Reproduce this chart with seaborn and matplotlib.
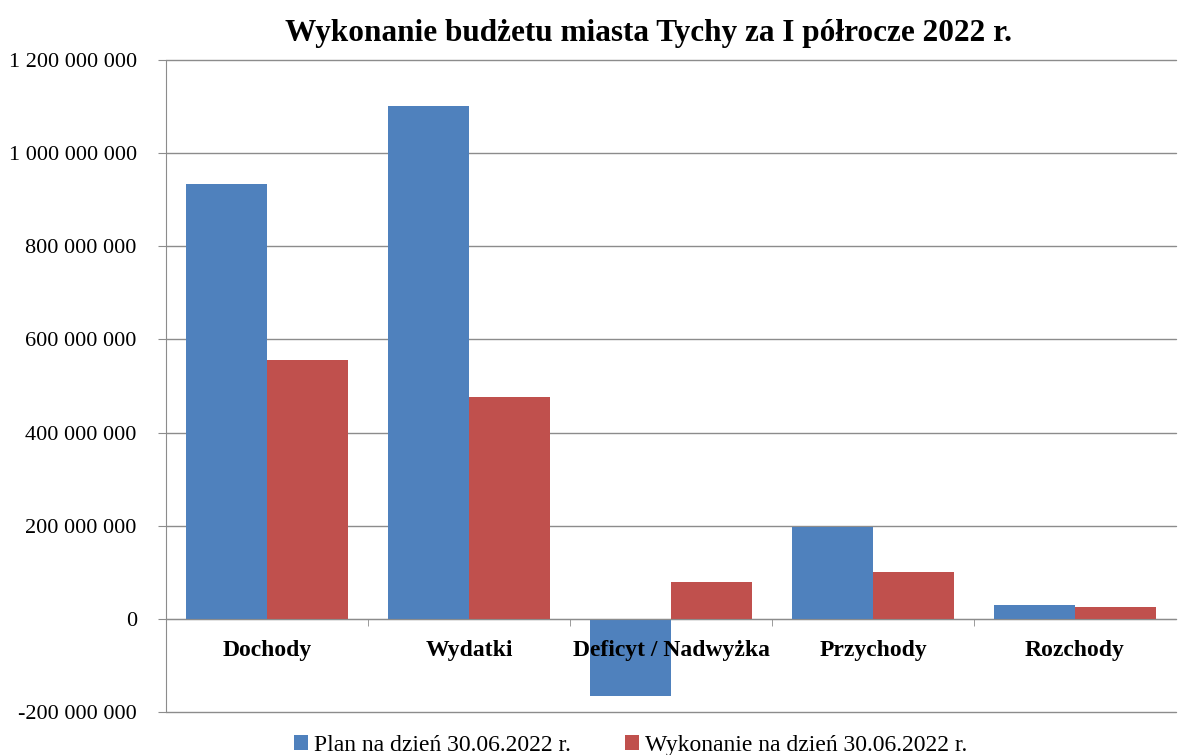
import numpy as np
import pandas as pd
import matplotlib
matplotlib.use("Agg")
import matplotlib.pyplot as plt
import seaborn as sns
from matplotlib.ticker import FuncFormatter, FixedLocator

categories = ["Dochody", "Wydatki", "Deficyt / Nadwyżka", "Przychody", "Rozchody"]
plan = [933_500_000, 1_100_500_000, -165_000_000, 197_000_000, 30_000_000]
wykonanie = [555_800_000, 476_400_000, 79_400_000, 100_900_000, 25_800_000]
series = ["Plan na dzień 30.06.2022 r.", "Wykonanie na dzień 30.06.2022 r."]
colors = ["#4F81BD", "#C0504D"]

df = pd.DataFrame({
    "kategoria": categories * 2,
    "wartosc": plan + wykonanie,
    "seria": [series[0]] * 5 + [series[1]] * 5,
})

sns.set_style("white")
plt.rcParams["font.family"] = ["Liberation Serif", "DejaVu Serif"]
plt.rcParams["text.color"] = "black"

fig = plt.figure(figsize=(11.86, 7.55), dpi=100)
ax = fig.add_axes([0.14, 0.057, 0.8516, 0.8635])

sns.barplot(data=df, x="kategoria", y="wartosc", hue="seria", palette=colors,
            width=0.8, ax=ax, saturation=1, edgecolor="none")

ax.set_ylim(-200_000_000, 1_200_000_000)
ax.set_xlim(-0.5, 4.5)
ax.set_yticks(np.arange(-200_000_000, 1_200_000_001, 200_000_000))
ax.yaxis.set_major_formatter(FuncFormatter(lambda v, p: f"{v:,.0f}".replace(",", " ")))
ax.yaxis.grid(True, color="#8c8c8c", linewidth=1)
ax.set_axisbelow(True)
ax.xaxis.set_zorder(5)  # category labels over the negative bar
for gl in ax.get_ygridlines():
    gl.set_clip_on(False)

# x axis sits on the zero line
ax.spines["bottom"].set_position(("data", 0))
ax.spines["bottom"].set_color("#8c8c8c")
ax.spines["left"].set_color("#8c8c8c")
ax.spines["top"].set_visible(False)
ax.spines["right"].set_visible(False)
ax.xaxis.set_minor_locator(FixedLocator([0.5, 1.5, 2.5, 3.5]))
ax.tick_params(axis="x", which="major", length=0, pad=15, labelsize=17, labelcolor="black")
ax.tick_params(axis="x", which="minor", length=5, direction="out", color="#8c8c8c", bottom=True)
ax.tick_params(axis="y", length=6, direction="out", color="#8c8c8c", left=True,
               labelsize=16, labelcolor="black", pad=15)
for lab in ax.get_xticklabels():
    lab.set_fontweight("bold")

ax.set_xlabel("")
ax.set_ylabel("")
fig.suptitle("Wykonanie budżetu miasta Tychy za I półrocze 2022 r.",
             x=0.547, y=0.975, fontsize=22.5, fontweight="bold", va="top")

ax.legend(loc="upper center", bbox_to_anchor=(0.46, -0.035), ncol=2, frameon=False,
          fontsize=17, handlelength=0.6, handleheight=0.6, handletextpad=0.25,
          columnspacing=2.3, borderaxespad=0, borderpad=0, labelcolor="black")

plt.savefig("out.png", dpi=100)
